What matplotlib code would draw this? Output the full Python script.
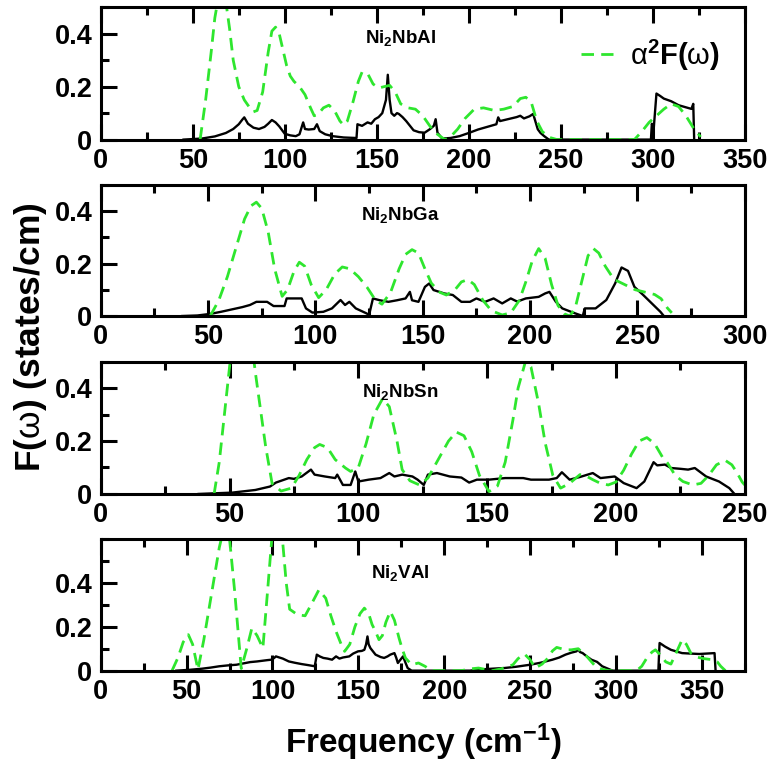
import matplotlib
matplotlib.use("Agg")
import matplotlib.pyplot as plt
from matplotlib.ticker import MultipleLocator, FormatStrFormatter


# Ni2NbAl: phonon DOS F(w) and Eliashberg function a2F(w)
nbal_w_f = [45, 55, 62, 68, 72, 75, 77, 78, 80, 83, 86, 89, 91, 93, 95, 97, 100, 103, 106, 108,
            110, 111, 113, 116, 117.5, 119, 122, 126, 132, 139, 139.5, 142, 145, 147, 149, 151, 153, 155, 156, 157,
            158, 159.5, 161, 162, 164, 166, 170, 173, 176, 179, 181, 182, 183, 185.5, 190, 195, 200, 205, 210, 215,
            216, 217, 220, 223, 226, 228, 230, 233, 235, 237.5, 239, 241, 243.5, 299, 299.5, 300.5, 302, 304, 306, 310,
            314, 318, 321, 322, 322.5]
nbal_f = [0, 0.004, 0.012, 0.025, 0.04, 0.058, 0.076, 0.084, 0.06, 0.045, 0.04, 0.048, 0.06, 0.074, 0.065, 0.05, 0.022, 0.016, 0.013, 0.02,
          0.065, 0.04, 0.038, 0.04, 0.058, 0.032, 0.02, 0.013, 0.008, 0.006, 0.058, 0.052, 0.065, 0.06, 0.077, 0.085, 0.1, 0.15, 0.245, 0.15,
          0.1, 0.09, 0.1, 0.097, 0.085, 0.07, 0.035, 0.028, 0.026, 0.04, 0.052, 0.077, 0.026, 0.004, 0.006, 0.013, 0.025, 0.038, 0.048, 0.058,
          0.084, 0.07, 0.075, 0.08, 0.085, 0.09, 0.08, 0.088, 0.097, 0.039, 0.025, 0.013, 0, 0, 0.06, 0.04, 0.174, 0.165, 0.155, 0.145,
          0.13, 0.122, 0.116, 0.135, 0]
nbal_w_a2f = [54, 57, 60, 62, 64, 66, 68, 70, 72, 75, 78, 81, 83, 85, 88, 91, 93, 95, 97, 99,
              101, 103, 105, 108, 111, 114, 116, 118, 121, 124, 127, 130, 132, 134, 137, 140, 142, 145, 148, 151,
              154, 157, 160, 163, 167, 171, 175, 179, 183, 187, 190, 194, 198, 203, 208, 214, 219, 224, 228, 231,
              234, 237, 240, 244, 248, 252, 290, 294, 298, 302, 306, 310, 314, 318, 322, 326]
nbal_a2f = [0, 0.15, 0.33, 0.46, 0.54, 0.56, 0.52, 0.42, 0.3, 0.2, 0.15, 0.12, 0.105, 0.11, 0.18, 0.33, 0.41, 0.425, 0.4, 0.34,
            0.28, 0.24, 0.22, 0.2, 0.17, 0.12, 0.09, 0.095, 0.12, 0.13, 0.11, 0.07, 0.055, 0.07, 0.14, 0.22, 0.255, 0.25, 0.21, 0.195,
            0.2, 0.205, 0.18, 0.135, 0.12, 0.115, 0.09, 0.05, 0.02, 0, 0.01, 0.04, 0.08, 0.115, 0.12, 0.11, 0.115, 0.125, 0.155, 0.16,
            0.14, 0.07, 0.03, 0.008, 0, 0, 0, 0.03, 0.065, 0.09, 0.115, 0.135, 0.125, 0.09, 0.045, 0.01]

# Ni2NbGa
nbga_w_f = [38, 45, 51, 56, 61, 66, 69.5, 72.5, 77.5, 80.5, 85.6, 86.6, 93.6, 95.6, 98.6, 103.7, 107.7, 111.7, 113.8, 115.8,
            118.8, 123.8, 125, 126.8, 130, 134, 138, 142, 144, 145, 148, 151, 153, 155, 160, 164, 168, 172, 175, 179,
            183, 187, 191, 194, 198, 204, 207, 209, 212, 215, 220, 224.5, 225.5, 230.5, 235.5, 239.6, 242.6, 245.6, 248.6, 252.7,
            256.7, 260.7, 262.3]
nbga_f = [0, 0.002, 0.008, 0.016, 0.025, 0.034, 0.042, 0.054, 0.054, 0.038, 0.038, 0.067, 0.067, 0.029, 0.013, 0.016, 0.029, 0.061, 0.042, 0.054,
          0.029, 0.01, 0.004, 0.067, 0.06, 0.054, 0.06, 0.067, 0.092, 0.06, 0.054, 0.111, 0.124, 0.099, 0.086, 0.08, 0.054, 0.054, 0.067, 0.054,
          0.067, 0.048, 0.067, 0.055, 0.067, 0.073, 0.086, 0.092, 0.054, 0.029, 0.013, 0, 0.029, 0.029, 0.061, 0.124, 0.185, 0.172, 0.111, 0.08,
          0.048, 0.016, 0]
nbga_w_a2f = [51, 55, 59, 63, 67, 70, 72.5, 75, 78, 81, 84.5, 87, 90, 92.5, 95, 98, 101.5, 105, 109, 112.5,
              116, 120, 124, 128, 131, 135, 139, 142, 145, 148, 151, 154, 158, 161, 165, 168, 171, 174, 178, 182,
              187, 191, 195, 198, 201, 204, 207, 210, 213, 216, 218.5, 221, 224, 227, 229.5, 232, 235, 239, 244, 249,
              254, 258, 261, 264, 266]
nbga_a2f = [0, 0.06, 0.15, 0.26, 0.37, 0.42, 0.434, 0.41, 0.32, 0.18, 0.075, 0.1, 0.17, 0.205, 0.19, 0.12, 0.07, 0.1, 0.16, 0.187,
            0.18, 0.15, 0.11, 0.06, 0.045, 0.09, 0.18, 0.235, 0.253, 0.24, 0.18, 0.125, 0.09, 0.08, 0.1, 0.13, 0.139, 0.12, 0.06, 0.02,
            0.004, 0.012, 0.06, 0.13, 0.21, 0.257, 0.22, 0.12, 0.04, 0.008, 0, 0.03, 0.13, 0.23, 0.257, 0.24, 0.19, 0.14, 0.12, 0.1,
            0.09, 0.082, 0.066, 0.03, 0.012]

# Ni2NbSn
nbsn_w_f = [38, 51, 60, 65.7, 68, 73, 75, 78, 81.6, 83, 87, 91, 91.8, 94, 97, 98.8, 100, 104, 108.6, 112,
            114, 117, 121, 123, 125.4, 127, 130.5, 135.5, 140, 143, 146, 150.7, 157, 164, 167, 174, 177, 179, 182, 186,
            191, 194, 199.5, 203, 208, 211, 214.6, 216, 219, 221.4, 225, 228, 230.6, 235, 240, 244, 246]
nbsn_f = [0, 0.005, 0.015, 0.028, 0.043, 0.06, 0.057, 0.066, 0.092, 0.073, 0.066, 0.06, 0.073, 0.034, 0.034, 0.085, 0.047, 0.054, 0.06, 0.079,
          0.066, 0.073, 0.066, 0.054, 0.034, 0.073, 0.079, 0.066, 0.062, 0.043, 0.054, 0.054, 0.06, 0.06, 0.054, 0.054, 0.06, 0.082, 0.054, 0.064,
          0.079, 0.06, 0.066, 0.041, 0.022, 0.047, 0.12, 0.108, 0.111, 0.098, 0.095, 0.092, 0.098, 0.066, 0.047, 0.022, 0]
nbsn_w_a2f = [44, 46, 48, 50, 52, 55, 58, 60, 62, 64, 66.5, 70, 74, 77, 80, 83, 85, 88, 91, 95,
              97, 100, 103, 106, 109.4, 112, 115, 117, 120, 123.7, 127, 131, 135, 138, 141, 144, 147, 150.7, 154, 157,
              160, 162, 165, 167, 170, 172.5, 175.5, 178.5, 182, 186, 188, 191, 194, 197, 200, 203, 206, 209, 212, 215,
              218, 220, 223, 226, 229.8, 233, 236, 239, 242.4, 245, 247, 249, 250]
nbsn_a2f = [0, 0.12, 0.3, 0.48, 0.64, 0.7, 0.62, 0.46, 0.32, 0.18, 0.04, 0.011, 0.022, 0.07, 0.13, 0.175, 0.187, 0.175, 0.13, 0.098,
            0.085, 0.1, 0.19, 0.3, 0.36, 0.33, 0.2, 0.092, 0.05, 0.034, 0.06, 0.13, 0.2, 0.234, 0.22, 0.16, 0.07, 0.009, 0.03, 0.12,
            0.28, 0.4, 0.505, 0.48, 0.34, 0.194, 0.07, 0.022, 0.04, 0.073, 0.07, 0.054, 0.04, 0.034, 0.045, 0.09, 0.15, 0.2, 0.213, 0.19,
            0.14, 0.117, 0.07, 0.047, 0.034, 0.04, 0.07, 0.11, 0.127, 0.11, 0.08, 0.045, 0.034]

# Ni2VAl
val_w_f = [44, 52, 59, 64, 69, 74, 79, 83, 87, 91, 94, 97, 99.4, 101, 102, 104, 106, 109.5, 113, 117,
           121, 124.6, 125.8, 127.5, 129.6, 132, 134.7, 137, 139, 141, 144.7, 147, 149.8, 152, 153.5, 154.5, 155.3, 156, 157, 160,
           163, 165, 167, 168.6, 171, 172, 173, 174.5, 176, 177.5, 178.7, 181, 215, 220, 228, 235, 242, 250, 256, 263,
           267, 270.6, 274, 277, 278, 279, 280.6, 283, 285.7, 289, 292, 295, 298, 324.7, 325, 325.4, 327, 328.5, 332, 335,
           338.5, 343, 348.5, 353, 357.4, 358]
val_f = [0, 0.004, 0.009, 0.014, 0.02, 0.024, 0.027, 0.033, 0.039, 0.042, 0.045, 0.048, 0.05, 0.058, 0.065, 0.06, 0.055, 0.042, 0.036, 0.03,
         0.025, 0.02, 0.073, 0.065, 0.058, 0.055, 0.05, 0.065, 0.055, 0.06, 0.065, 0.078, 0.088, 0.09, 0.095, 0.12, 0.156, 0.12, 0.103, 0.073,
         0.062, 0.058, 0.065, 0.073, 0.08, 0.06, 0.035, 0.05, 0.065, 0.035, 0.012, 0, 0, 0.005, 0.009, 0.012, 0.018, 0.027, 0.036, 0.05,
         0.06, 0.073, 0.082, 0.088, 0.098, 0.085, 0.08, 0.065, 0.05, 0.04, 0.02, 0.01, 0, 0, 0.06, 0.126, 0.118, 0.11, 0.095, 0.088,
         0.08, 0.078, 0.076, 0.078, 0.08, 0]
val_w_a2f = [41.5, 45, 48, 51, 53.5, 56.6, 60, 63, 66, 69, 72, 75, 78, 81.8, 85, 88, 91, 94.4, 97, 100,
             103, 106, 108, 110, 114.5, 119, 123, 127, 131, 134, 137, 140, 142, 145, 148, 151, 153.5, 156, 158, 160,
             162, 164, 166, 168.6, 171, 173.7, 175.5, 177.4, 181, 185, 188.8, 192.5, 210, 215, 220, 225, 228, 233, 237, 240,
             243, 246.7, 250, 253, 257, 260.5, 263, 265.5, 270.6, 274, 278, 283, 288, 292, 296, 312, 315, 318, 321, 323,
             326, 329, 332, 335, 338.5, 341, 343.6, 347, 351, 356, 359, 361, 363.7]
val_a2f = [0, 0.06, 0.13, 0.164, 0.12, 0.005, 0.14, 0.28, 0.42, 0.56, 0.66, 0.6, 0.36, 0.01, 0.1, 0.194, 0.16, 0.103, 0.35, 0.64,
           0.7, 0.58, 0.4, 0.28, 0.255, 0.25, 0.308, 0.368, 0.33, 0.25, 0.179, 0.12, 0.088, 0.12, 0.2, 0.26, 0.285, 0.26, 0.21, 0.179,
           0.141, 0.16, 0.22, 0.27, 0.23, 0.148, 0.1, 0.058, 0.027, 0.035, 0.02, 0, 0, 0.008, 0.012, 0.004, 0, 0.008, 0.018, 0.027,
           0.055, 0.076, 0.05, 0.012, 0.03, 0.058, 0.09, 0.106, 0.095, 0.095, 0.1, 0.065, 0.02, 0.006, 0, 0, 0.02, 0.058, 0.085, 0.095,
           0.07, 0.04, 0.03, 0.08, 0.141, 0.12, 0.08, 0.062, 0.055, 0.05, 0.04, 0.02, 0]

compounds = [r"Ni$_{\mathbf{2}}$NbAl", r"Ni$_{\mathbf{2}}$NbGa", r"Ni$_{\mathbf{2}}$NbSn", r"Ni$_{\mathbf{2}}$VAl"]
x_max = [350, 300, 250, 375]
y_max = [0.5, 0.5, 0.5, 0.6]

GREEN = "#2ee62e"

plt.rcParams['font.family'] = ['Liberation Sans', 'DejaVu Sans']
plt.rcParams['font.weight'] = 'bold'
plt.rcParams['mathtext.fontset'] = 'custom'
plt.rcParams['mathtext.rm'] = 'Liberation Sans:bold'
plt.rcParams['mathtext.bf'] = 'Liberation Sans:bold'
# thin greek letters, like the symbol font of the original plotting program
plt.rcParams['mathtext.sf'] = 'Liberation Sans:regular'
plt.rcParams['mathtext.it'] = 'Liberation Sans:bold:italic'


def style_axis(ax, xmax, ymax):
    ax.set_xlim(0, xmax)
    ax.set_ylim(0, ymax)
    ax.xaxis.set_major_locator(MultipleLocator(50))
    ax.xaxis.set_minor_locator(MultipleLocator(25))
    ax.set_yticks([0, 0.2, 0.4])
    ax.yaxis.set_minor_locator(MultipleLocator(0.1))
    ax.yaxis.set_major_formatter(FormatStrFormatter('%g'))
    ax.tick_params(which='both', direction='in', top=True, right=False, width=2.2)
    ax.tick_params(which='major', length=11.5, labelsize=19.5, pad=6)
    ax.tick_params(which='minor', length=6)
    for spine in ax.spines.values():
        spine.set_linewidth(2.2)


def plot_panels():
    fig = plt.figure(figsize=(7.75, 7.67), dpi=100)
    rects = [
        [0.130, 0.818, 0.831, 0.1725],
        [0.130, 0.588, 0.831, 0.171],
        [0.130, 0.356, 0.831, 0.1725],
        [0.130, 0.1256, 0.831, 0.1717],
    ]
    curves = [
        (nbal_w_f, nbal_f, nbal_w_a2f, nbal_a2f),
        (nbga_w_f, nbga_f, nbga_w_a2f, nbga_a2f),
        (nbsn_w_f, nbsn_f, nbsn_w_a2f, nbsn_a2f),
        (val_w_f, val_f, val_w_a2f, val_a2f),
    ]
    text_y = [0.77, 0.77, 0.77, 0.74]

    axes = []
    for i, rect in enumerate(rects):
        ax = fig.add_axes(rect)
        w_f, f, w_a2f, a2f = curves[i]
        ax.plot(w_f, f, color='black', lw=1.7)
        ax.plot(w_a2f, a2f, color=GREEN, lw=2.0, dashes=(4.5, 2.6),
                label=r"$\mathsf{\alpha}^{\mathbf{2}}$F($\mathsf{\omega}$)")
        style_axis(ax, x_max[i], y_max[i])
        ax.text(0.465, text_y[i], compounds[i], transform=ax.transAxes,
                ha='center', va='center', fontsize=13.5, fontweight='bold')
        axes.append(ax)

    axes[0].legend(loc='center left', bbox_to_anchor=(0.745, 0.64), frameon=False,
                   fontsize=21, handlelength=1.1, handletextpad=0.6,
                   borderpad=0, borderaxespad=0)

    fig.text(0.039, 0.561, r"F($\mathsf{\omega}$) (states/cm)", rotation=90,
             ha='center', va='center', fontsize=25.5, fontweight='bold')
    fig.text(0.546, 0.018, r"Frequency (cm$^{\mathbf{-1}}$)",
             ha='center', va='baseline', fontsize=24, fontweight='bold')

    fig.savefig("out.png", dpi=100)


if __name__ == "__main__":
    plot_panels()
